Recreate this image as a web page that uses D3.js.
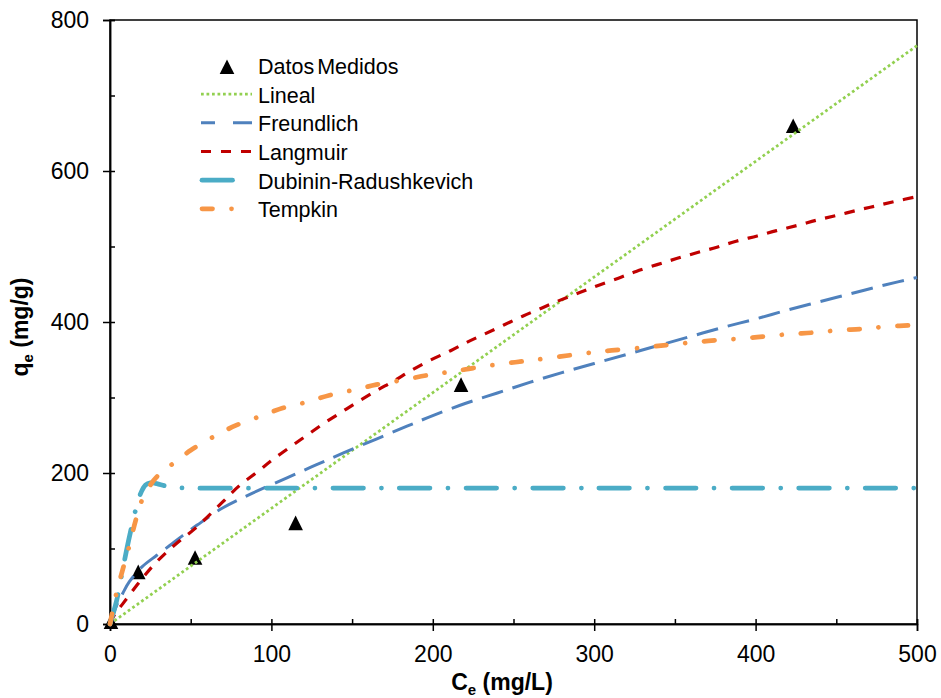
<!DOCTYPE html>
<html><head><meta charset="utf-8">
<script src="https://cdn.jsdelivr.net/npm/d3@7"></script>
<style>body{margin:0;background:#fff}svg{display:block;font-family:"Liberation Sans",Arial,sans-serif}</style>
</head><body><svg id="c" width="941" height="698"></svg>
<script>
// ---- data ----
const measuredC = [0.6, 17.5, 52.7, 115, 217.5, 423.3];
const measuredQ = [3, 69, 88, 134, 317, 660];
const linealC = [0, 500];
const linealQ = [0, 766];
const freundlichC = [0,4,8,12,20,29,37,45,54,70,88,110,128,145,165,184,200,220,240,260,280,300,320,340,360,380,400,420,440,460,480,500];
const freundlichQ = [0,24,41,56,76,91,104,117,131,154,173,194,211,227,245,262,276,292,306,320,333,345,357,369,381,393,404,416,427,438,449,459];
const langmuirC = [0,3,8,14,21,27,35,43,53,70,80,91,101,112,122,132,143,154,165,176,186,198,211,221,232,244,256,268,279,291,302,315,326,339,351,364,376,388,401,413,426,438,450,463,475,487,500];
const langmuirQ = [0,13,27,44,63,78,95,110,127,162,183,201,218,235,250,265,280,295,309,322,335,349,362,373,384,396,408,419,429,439,448,458,467,476,484,492,499,507,514,521,528,535,541,548,554,560,566];
const drC = [0,4,7,10,13,16,19,22,25,29,34,40,50,100,300,500];
const drQ = [0,30,62,95,125,152,173,184,187,186,183,181,180,180,180,180];
const tempkinC = [0,4,8,12,16,20,27,32,40,50,65,78,93,107,122,136,151,165,181,198,211,225,241,256,271,300,330,347,361,376,391,406,421,436,451,467,481,500];
const tempkinQ = [0,41,73,104,138,165,190,201,214,230,249,263,275,286,294,303,310,317,323,330,334,339,344,348,352,360,366,370,373,376,378,381,384,386,389,391,394,396];
const xTicks = [0,100,200,300,400,500];
const yTicks = [0,200,400,600,800];
const legendLabels = ["Datos Medidos","Lineal","Freundlich","Langmuir","Dubinin-Radushkevich","Tempkin"];

// ---- layout ----
const svg = d3.select("#c");
const x = d3.scaleLinear().domain([0,500]).range([110,917]);
const y = d3.scaleLinear().domain([0,800]).range([624,20]);

const series = [
  {C: linealC, Q: linealQ, color:"#92D050", width:2.75, dash:"2.75 2.75", cap:"butt", ldash:"2.75 2.75"},
  {C: freundlichC, Q: freundlichQ, color:"#4F81BD", width:3, dash:"22 10", cap:"butt", ldash:"14 18 20 10"},
  {C: langmuirC, Q: langmuirQ, color:"#C00000", width:3.2, dash:"10.5 9.5", cap:"butt", ldash:"10 10"},
  {C: drC, Q: drQ, color:"#4BACC6", width:4.75, dash:"30.5 18 0.01 18", cap:"round"},
  {C: tempkinC, Q: tempkinQ, color:"#F79646", width:4.75, dash:"10.5 19 0.01 19", cap:"round"}
];

// frame
svg.append("rect").attr("x",110).attr("y",20).attr("width",807).attr("height",604)
  .attr("fill","none").attr("stroke","#000").attr("stroke-width",1.5);

// axes
const fs = 23;
svg.append("g").attr("transform","translate(0,624)")
  .call(d3.axisBottom(x).tickValues(xTicks).tickSize(7).tickPadding(14.7).tickFormat(d3.format("d")));
svg.append("g").attr("transform","translate(110,0)")
  .call(d3.axisLeft(y).tickValues(yTicks).tickSize(7).tickPadding(14).tickFormat(d3.format("d")));
svg.append("g").attr("transform","translate(0,624)")
  .call(d3.axisBottom(x).tickValues(d3.range(0,501,50)).tickSize(-5).tickFormat(""));
svg.append("g").attr("transform","translate(110,0)")
  .call(d3.axisLeft(y).tickValues(d3.range(0,801,100)).tickSize(-5).tickFormat(""));
svg.selectAll(".domain").attr("stroke","#000").attr("stroke-width",1.5);
svg.selectAll(".tick line").attr("stroke","#000").attr("stroke-width",1.5);
svg.selectAll(".tick text").attr("font-size",fs).attr("fill","#000").attr("font-family","'Liberation Sans',Arial,sans-serif");

// measured points (triangles)
const tri = "M0,-7.3L7.3,7.3L-7.3,7.3Z";
svg.append("g").selectAll("path").data(measuredC.map((c,i)=>[c,measuredQ[i]])).join("path")
  .attr("d",tri).attr("fill","#000")
  .attr("transform",d=>`translate(${x(d[0])},${y(d[1])})`);

// model curves
const line = d3.line().x(d=>x(d[0])).y(d=>y(d[1])).curve(d3.curveCatmullRom.alpha(0.5));
series.forEach(s=>{
  svg.append("path").datum(s.C.map((c,i)=>[c,s.Q[i]]))
    .attr("d",line).attr("fill","none").attr("stroke",s.color)
    .attr("stroke-width",s.width).attr("stroke-dasharray",s.dash)
    .attr("stroke-linecap",s.cap).attr("stroke-linejoin","round");
});

// legend
const lg = svg.append("g");
const baseY = 74, step = 28.67;
legendLabels.forEach((lab,i)=>{
  const by = baseY + i*step;
  lg.append("text").attr("x",258).attr("y",by).attr("font-size",21.5).attr("fill","#000")
    .attr("word-spacing", i===0 ? -3 : 0).text(lab);
  if(i===0){
    lg.append("path").attr("d",tri).attr("fill","#000").attr("transform",`translate(227,${by-7.3})`);
  } else {
    const s = series[i-1];
    lg.append("line").attr("x1",s.cap==="round"?202:201).attr("x2",s.cap==="round"?250:252)
      .attr("y1",by-8.5).attr("y2",by-8.5)
      .attr("stroke",s.color).attr("stroke-width",s.width)
      .attr("stroke-dasharray",s.ldash||s.dash).attr("stroke-linecap",s.cap);
  }
});

// axis titles
const xt = svg.append("text").attr("x",502).attr("y",690).attr("text-anchor","middle")
  .attr("font-size",fs).attr("font-weight","bold").attr("fill","#000");
xt.append("tspan").text("C");
xt.append("tspan").attr("font-size",15).attr("dy",5).text("e");
xt.append("tspan").attr("dy",-5).text(" (mg/L)");

const yt = svg.append("text").attr("transform","translate(28,327) rotate(-90)").attr("text-anchor","middle")
  .attr("font-size",fs).attr("font-weight","bold").attr("fill","#000");
yt.append("tspan").text("q");
yt.append("tspan").attr("font-size",15).attr("dy",5).text("e");
yt.append("tspan").attr("dy",-5).text(" (mg/g)");
</script></body></html>
